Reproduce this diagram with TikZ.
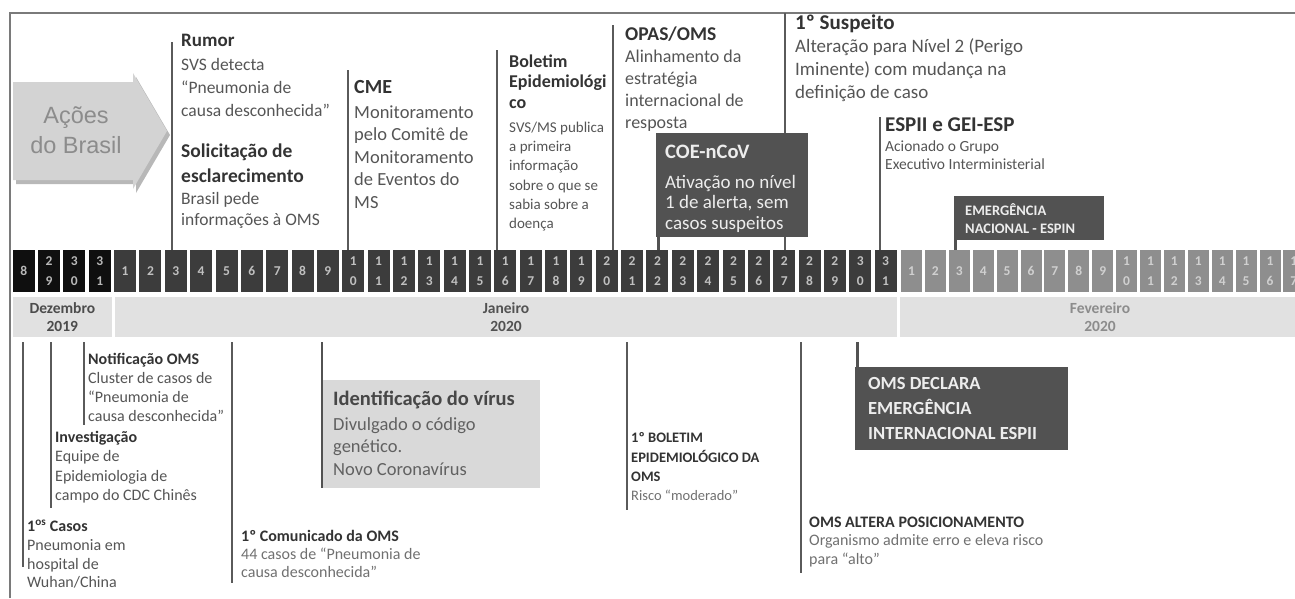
\documentclass[tikz,border=0pt]{standalone}
\usepackage{fontspec}
\setmainfont{Carlito}
\newfontfamily\arialf{Liberation Sans}
\definecolor{framec}{HTML}{7A7A7A}
\definecolor{linec}{HTML}{5A5A5A}
\definecolor{titc}{HTML}{333333}
\definecolor{bodyc}{HTML}{555555}
\definecolor{lightbody}{HTML}{707070}
\definecolor{darkbox}{HTML}{525252}
\definecolor{boxtext}{HTML}{EDEDED}
\definecolor{idbox}{HTML}{D9D9D9}
\definecolor{decc}{HTML}{0F0F0F}
\definecolor{janc}{HTML}{3C3C3C}
\definecolor{febc}{HTML}{8E8E8E}
\definecolor{decdig}{HTML}{B8B8B8}
\definecolor{jandig}{HTML}{C0C0C0}
\definecolor{febdig}{HTML}{D0D0D0}
\definecolor{monthc}{HTML}{E1E1E1}
\definecolor{arrowc}{HTML}{D3D3D3}
\definecolor{arrowsh}{HTML}{B8B8B8}
\definecolor{arrowtxt}{HTML}{8C8C8C}
\newcommand{\mystrut}{\rule{0pt}{0.9em}}
\newcommand{\fsz}[2]{\fontsize{#1}{#2}\selectfont}
\begin{document}
\begin{tikzpicture}[x=1pt,y=-1pt,
  txt/.style={anchor=north west, inner sep=0pt, align=left, text=bodyc},
  mline/.style={draw=linec, line width=1.8pt},
  bline/.style={draw=darkbox, line width=3pt},
  daycell/.style={rectangle, inner sep=0pt, minimum height=42pt, font=\fsz{13.5}{19.5}\bfseries, align=center},
  monthbox/.style={rectangle, fill=monthc, inner sep=0pt, minimum height=40pt, font=\fsz{15.5}{18}\bfseries, align=center},
  darkpanel/.style={rectangle, fill=darkbox, inner sep=0pt, anchor=north west}
]
\useasboundingbox (0,0) rectangle (1295,598);

% frame
\draw[framec, line width=2pt] (10,598) -- (10,13) -- (1296,13);

% arrow "Acoes do Brasil"
\fill[arrowsh] (16,86) -- (136,86) -- (136,77) -- (170,135) -- (136,193) -- (136,184) -- (16,184) -- cycle;
\fill[arrowc] (13,82) -- (133,82) -- (133,73) -- (167,131) -- (133,189) -- (133,180) -- (13,180) -- cycle;
\node[font=\arialf\fsz{23.5}{30}, text=arrowtxt, align=center] (acoes) at (76,130) {Ações\\do Brasil};

% day cells
\foreach \i/\lab in {0/8, 1/{2\\9}, 2/{3\\0}, 3/{3\\1}} {
  \node[daycell, fill=decc, text=decdig, minimum width=22pt] (dec\i) at ({12.7+25.35*\i+11},271) {\lab};
}
\foreach \d in {1,...,31} {
  \pgfmathtruncatemacro\tn{div(\d,10)}
  \pgfmathtruncatemacro\un{mod(\d,10)}
  \ifnum\d<10 \edef\lab{\d}\else\edef\lab{\tn\noexpand\\\un}\fi
  \node[daycell, fill=janc, text=jandig, minimum width=22pt] (jan\d) at ({12.7+25.35*(\d+3)+11},271) {\lab};
}
\foreach \d in {1,...,17} {
  \pgfmathtruncatemacro\tn{div(\d,10)}
  \pgfmathtruncatemacro\un{mod(\d,10)}
  \ifnum\d<10 \edef\lab{\d}\else\edef\lab{\tn\noexpand\\\un}\fi
  \node[daycell, fill=febc, text=febdig, minimum width=21pt] (feb\d) at ({901+23.9*(\d-1)+10.5},271) {\lab};
}

% month boxes
\node[monthbox, minimum width=99.3pt, text=black!70] (mdec) at (62.35,317) {Dezembro\\2019};
\node[monthbox, minimum width=782pt, text=black!68] (mjan) at (506,317) {Janeiro\\2020};
\node[monthbox, minimum width=400pt, text=black!45] (mfeb) at (1100,317) {Fevereiro\\2020};

% ---------- top events ----------
% Rumor / Solicitacao
\coordinate (rumA) at (172,42); \coordinate (rumB) at (172,250);
\draw[mline] (rumA) -- (rumB);
\node[txt, font=\fsz{17.5}{23.3}] (rumor) at (181,31) {\mystrut\textcolor{titc}{\fsz{19}{23.3}\bfseries Rumor}\\SVS detecta\\“Pneumonia de\\causa desconhecida”};
\node[txt, text=titc, font=\fsz{19.5}{24.5}\bfseries] (solic) at (181,140) {\mystrut Solicitação de\\esclarecimento};
\node[txt, font=\fsz{17.5}{21}] (solicb) at (181,189) {\mystrut Brasil pede\\informações à OMS};

% CME
\coordinate (cmeA) at (348,70); \coordinate (cmeB) at (348,250);
\draw[mline] (cmeA) -- (cmeB);
\node[txt, text=titc, font=\fsz{20}{24}\bfseries] (cme) at (354,75) {\mystrut CME};
\node[txt, font=\fsz{18.5}{22.5}] (cmeb) at (354,101.5) {\mystrut Monitoramento\\pelo Comitê de\\Monitoramento\\de Eventos do\\MS};

% Boletim
\coordinate (bolA) at (497,50); \coordinate (bolB) at (497,250);
\draw[mline] (bolA) -- (bolB);
\node[txt, text=titc, font=\fsz{18}{20.5}\bfseries] (bol) at (509,51) {\mystrut Boletim\\Epidemiológi\\co};
\node[txt, font=\fsz{15}{19.2}] (bolb) at (509,118.7) {\mystrut SVS/MS publica\\a primeira\\informação\\sobre o que se\\sabia sobre a\\doença};

% OPAS/OMS
\coordinate (opaA) at (613,25); \coordinate (opaB) at (613,250);
\draw[mline] (opaA) -- (opaB);
\node[txt, text=titc, font=\fsz{19.5}{24}\bfseries] (opas) at (625,23) {\mystrut OPAS/OMS};
\node[txt, font=\fsz{18}{22}] (opasb) at (625,46.5) {\mystrut Alinhamento da\\estratégia\\internacional de\\resposta};

% 1o Suspeito
\coordinate (susA) at (785,13); \coordinate (susB) at (785,250);
\draw[mline] (susA) -- (susB);
\node[txt, text=titc, font=\fsz{21}{24}\bfseries] (susp) at (795,10) {\mystrut 1º Suspeito};
\node[txt, font=\fsz{19}{23}] (suspb) at (795,35) {\mystrut Alteração para Nível 2 (Perigo\\Iminente) com mudança na\\definição de caso};

% COE-nCoV
\node[darkpanel, minimum width=152pt, minimum height=104pt] (coe) at (656,133) {};
\coordinate (coeA) at (658,236); \coordinate (coeB) at (658,250);
\draw[bline] (coeA) -- (coeB);
\node[txt, text=boxtext, font=\fsz{20.5}{24}\bfseries] (coet) at (665,139.5) {\mystrut COE-nCoV};
\node[txt, text=boxtext, font=\fsz{19}{20.5}] (coeb) at (665,171) {\mystrut Ativação no nível\\1 de alerta, sem\\casos suspeitos};

% ESPII e GEI-ESP
\coordinate (espA) at (880,117); \coordinate (espB) at (880,250);
\draw[mline] (espA) -- (espB);
\node[txt, text=titc, font=\fsz{21}{24}\bfseries] (espii) at (885,112.5) {\mystrut ESPII e GEI-ESP};
\node[txt, font=\fsz{15.5}{17.5}] (espiib) at (885,137.5) {\mystrut Acionado o Grupo\\Executivo Interministerial};

% Emergencia nacional
\node[darkpanel, minimum width=150pt, minimum height=44pt] (espin) at (954,196) {};
\coordinate (espinA) at (955.5,239); \coordinate (espinB) at (955.5,250);
\draw[bline] (espinA) -- (espinB);
\node[txt, text=boxtext, font=\fsz{14.5}{18}\bfseries] (espint) at (965,202.5) {\mystrut EMERGÊNCIA\\NACIONAL - ESPIN};

% ---------- bottom events ----------
% 1os Casos
\coordinate (casA) at (23,342); \coordinate (casB) at (23,567);
\draw[mline] (casA) -- (casB);
\node[txt, font=\fsz{16}{18.7}] (casos) at (27,517) {\mystrut\textcolor{titc}{\bfseries 1\textsuperscript{os} Casos}\\Pneumonia em\\hospital de\\Wuhan/China};

% Investigacao
\coordinate (invA) at (51,342); \coordinate (invB) at (51,508);
\draw[mline] (invA) -- (invB);
\node[txt, font=\fsz{16}{19.2}] (invest) at (55,428) {\mystrut\textcolor{titc}{\bfseries Investigação}\\Equipe de\\Epidemiologia de\\campo do CDC Chinês};

% Notificacao OMS
\coordinate (notA) at (84,342); \coordinate (notB) at (84,425);
\draw[mline] (notA) -- (notB);
\node[txt, font=\fsz{16}{19}] (notif) at (88,350) {\mystrut\textcolor{titc}{\bfseries Notificação OMS}\\Cluster de casos de\\“Pneumonia de\\causa desconhecida”};

% 1o Comunicado
\coordinate (comA) at (232,342); \coordinate (comB) at (232,583);
\draw[mline] (comA) -- (comB);
\node[txt, text=lightbody, font=\fsz{16}{18}] (comun) at (241,527) {\mystrut\textcolor{titc}{\bfseries 1º Comunicado da OMS}\\44 casos de “Pneumonia de\\causa desconhecida”};

% Identificacao do virus
\node[rectangle, fill=idbox, inner sep=0pt, anchor=north west, minimum width=218pt, minimum height=108pt] (ident) at (322,380) {};
\coordinate (idA) at (322,342); \coordinate (idB) at (322,488);
\draw[bline, line width=2.6pt] (idA) -- (idB);
\node[txt, text=black!72, font=\fsz{20.5}{24}\bfseries] (identt) at (333,386.5) {\mystrut Identificação do vírus};
\node[txt, text=black!62, font=\fsz{18.5}{22.5}] (identb) at (333,413.5) {\mystrut Divulgado o código\\genético.\\Novo Coronavírus};

% 1o Boletim OMS
\coordinate (bomA) at (627,342); \coordinate (bomB) at (627,510);
\draw[mline] (bomA) -- (bomB);
\node[txt, text=lightbody, font=\fsz{14.5}{19.3}] (boloms) at (631,429.5) {\mystrut\textcolor{titc}{\bfseries 1º BOLETIM}\\\textcolor{titc}{\bfseries EPIDEMIOLÓGICO DA}\\\textcolor{titc}{\bfseries OMS}\\Risco “moderado”};

% OMS altera posicionamento
\coordinate (altA) at (801,342); \coordinate (altB) at (801,573);
\draw[mline] (altA) -- (altB);
\node[txt, text=lightbody, font=\fsz{16}{18.8}] (altera) at (809,512.5) {\mystrut\textcolor{titc}{\bfseries OMS ALTERA POSICIONAMENTO}\\Organismo admite erro e eleva risco\\para “alto”};

% OMS declara
\node[darkpanel, minimum width=213pt, minimum height=83pt] (declara) at (855,367) {};
\coordinate (decA) at (857,342); \coordinate (decB) at (857,368);
\draw[bline] (decA) -- (decB);
\node[txt, text=boxtext, font=\fsz{18.5}{25}\bfseries] (declarat) at (868,372.5) {\mystrut OMS DECLARA\\EMERGÊNCIA\\INTERNACIONAL ESPII};

\end{tikzpicture}
\end{document}
